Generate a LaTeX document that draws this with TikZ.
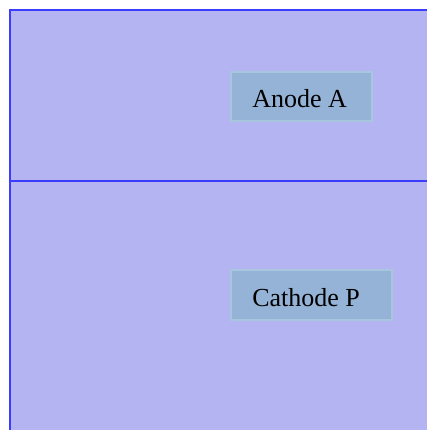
\documentclass[tikz,border=0pt]{standalone}
\usepackage{fontspec}
\setmainfont{Liberation Serif}
\definecolor{panel}{HTML}{B4B4F2}
\definecolor{edge}{HTML}{3C3CFF}
\definecolor{boxfill}{HTML}{95B3D7}
\definecolor{boxedge}{HTML}{A8C6DE}
\tikzset{
  panelline/.style={draw=edge, line width=1.2pt},
  labelbox/.style={fill=boxfill, draw=boxedge, line width=1pt},
  labeltext/.style={anchor=base west, inner sep=0pt, font=\fontsize{19.5pt}{22pt}\selectfont}
}
\begin{document}
\begin{tikzpicture}[x=0.75pt, y=-0.75pt]
\useasboundingbox (0,0) rectangle (427,430);
\fill[white] (0,0) rectangle (427,430);
\fill[panel] (10,10) rectangle (427,430);
\draw[panelline] (10,430) -- (10,10) -- (427,10);
\draw[panelline] (10,181) -- (427,181);
\draw[labelbox] (231,72) rectangle (372,121);
\node[labeltext] (anode) at (252,107) {Anode A};
\draw[labelbox] (231,270) rectangle (392,320);
\node[labeltext] (cathode) at (252,306) {Cathode P};
\end{tikzpicture}
\end{document}
